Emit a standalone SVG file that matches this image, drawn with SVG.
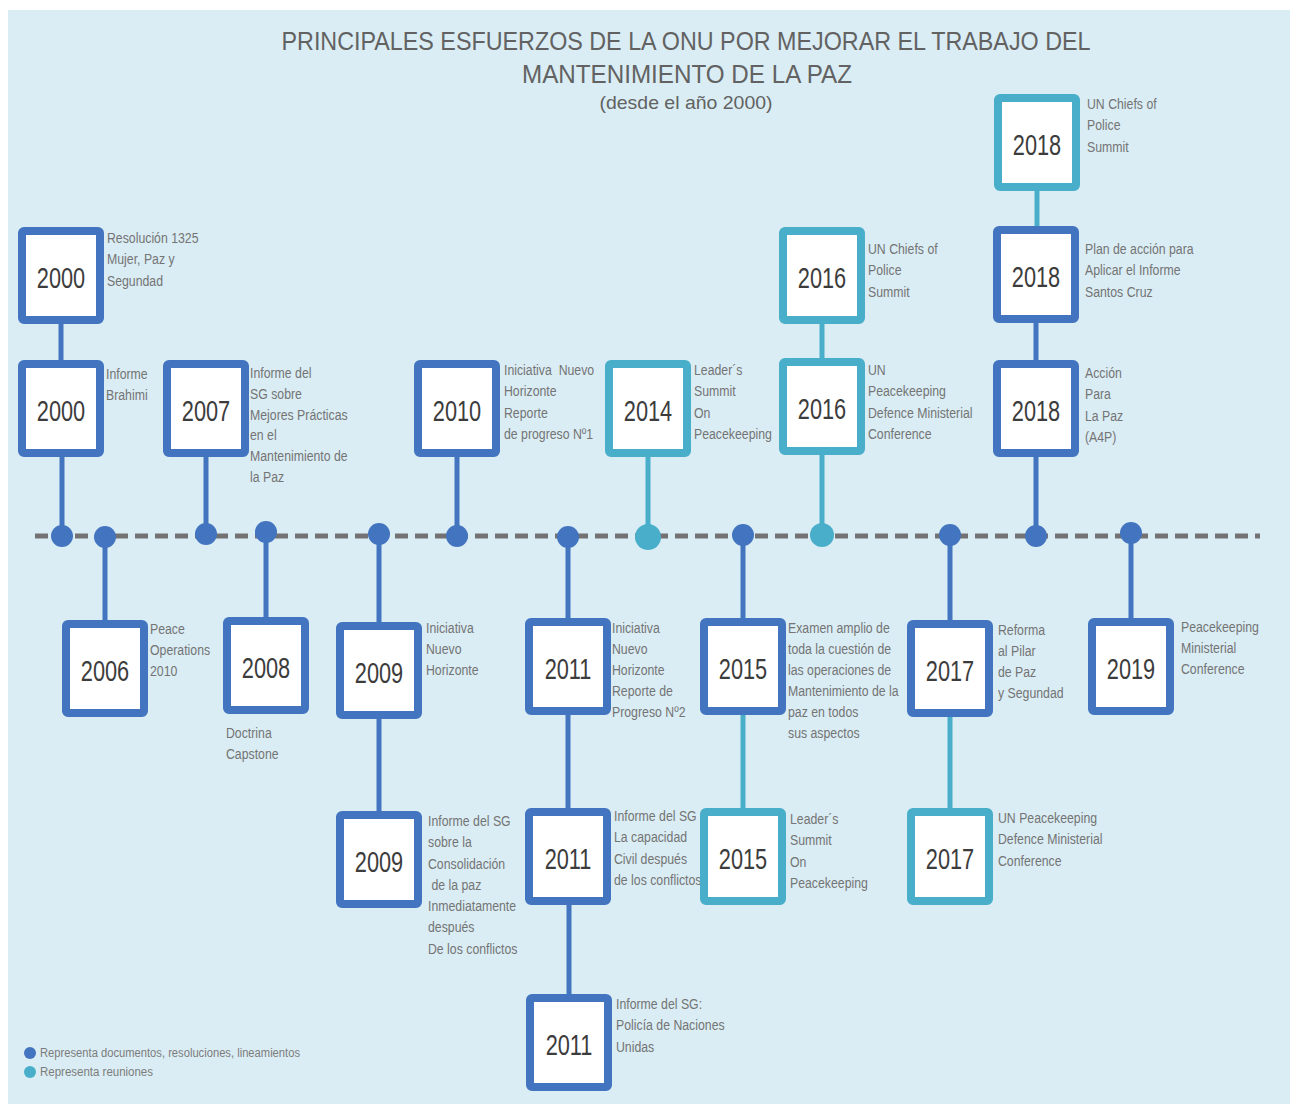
<svg xmlns="http://www.w3.org/2000/svg" width="1292" height="1104" viewBox="0 0 1292 1104">
<style>
.bg{fill:#daedf4}
.title{font-family:"Liberation Sans",Arial,sans-serif;fill:#626262}
.box{fill:#fff;stroke-width:8}
.bd{stroke:#4274bf}
.bt{stroke:#49aec9}
.yr{font-family:"Liberation Sans",Arial,sans-serif;font-size:29px;fill:#3c3c3c;text-anchor:middle}
.lb{font-family:"Liberation Sans",Arial,sans-serif;font-size:15px;fill:#747474}
.cd{stroke:#4274bf;stroke-width:5;fill:none}
.ct{stroke:#49aec9;stroke-width:5;fill:none}
.dd{fill:#4274bf}
.dt{fill:#49aec9}
.tl{stroke:#727272;stroke-width:5;stroke-dasharray:13 7;fill:none}
.lg{font-family:"Liberation Sans",Arial,sans-serif;font-size:12px;fill:#7c7c7c}
</style>
<rect x="0" y="0" width="1292" height="1104" fill="#fff"/>
<rect class="bg" x="8" y="10" width="1282" height="1094"/>

<g id="title">
<text class="title" x="686" y="50" font-size="25" text-anchor="middle" textLength="809" lengthAdjust="spacingAndGlyphs">PRINCIPALES ESFUERZOS DE LA ONU POR MEJORAR EL TRABAJO DEL</text>
<text class="title" x="687" y="83" font-size="25" text-anchor="middle" textLength="330" lengthAdjust="spacingAndGlyphs">MANTENIMIENTO DE LA PAZ</text>
<text class="title" x="686" y="109" font-size="19" text-anchor="middle" textLength="173" lengthAdjust="spacingAndGlyphs">(desde el año 2000)</text>
</g>

<g id="connectors">
<line class="tl" x1="35" y1="536" x2="1260" y2="536"/>
<line class="cd" x1="61" y1="323" x2="61" y2="361"/>
<line class="cd" x1="62" y1="456" x2="62" y2="536"/>
<line class="cd" x1="206" y1="456" x2="206" y2="536"/>
<line class="cd" x1="457" y1="456" x2="457" y2="536"/>
<line class="ct" x1="648" y1="456" x2="648" y2="536"/>
<line class="ct" x1="822" y1="323" x2="822" y2="360"/>
<line class="ct" x1="822" y1="455" x2="822" y2="536"/>
<line class="ct" x1="1037" y1="190" x2="1037" y2="227"/>
<line class="cd" x1="1036" y1="322" x2="1036" y2="361"/>
<line class="cd" x1="1036" y1="456" x2="1036" y2="536"/>
<line class="cd" x1="105" y1="536" x2="105" y2="621"/>
<line class="cd" x1="266" y1="536" x2="266" y2="618"/>
<line class="cd" x1="379" y1="536" x2="379" y2="623"/>
<line class="cd" x1="379" y1="718" x2="379" y2="812"/>
<line class="cd" x1="568" y1="536" x2="568" y2="619"/>
<line class="cd" x1="568" y1="714" x2="568" y2="809"/>
<line class="cd" x1="569" y1="904" x2="569" y2="995"/>
<line class="cd" x1="743" y1="536" x2="743" y2="619"/>
<line class="ct" x1="743" y1="714" x2="743" y2="809"/>
<line class="cd" x1="950" y1="536" x2="950" y2="621"/>
<line class="ct" x1="950" y1="716" x2="950" y2="809"/>
<line class="cd" x1="1131" y1="536" x2="1131" y2="619"/>
<circle class="dd" cx="62" cy="536" r="11"/>
<circle class="dd" cx="105" cy="537" r="11"/>
<circle class="dd" cx="206" cy="534" r="11"/>
<circle class="dd" cx="266" cy="532" r="11"/>
<circle class="dd" cx="379" cy="534" r="11"/>
<circle class="dd" cx="457" cy="536" r="11"/>
<circle class="dd" cx="568" cy="537" r="11"/>
<circle class="dt" cx="648" cy="537" r="13"/>
<circle class="dd" cx="743" cy="535" r="11"/>
<circle class="dt" cx="822" cy="535" r="12"/>
<circle class="dd" cx="950" cy="535" r="11"/>
<circle class="dd" cx="1036" cy="536" r="11"/>
<circle class="dd" cx="1131" cy="533" r="11"/>
</g>

<g id="n2000a"><rect class="box bd" x="22" y="231" width="78" height="89" rx="2"/><text class="yr" transform="translate(61,288) scale(0.75,1)">2000</text>
<text class="lb" transform="translate(107,243) scale(0.82,1)"><tspan x="0" y="0">Resolución 1325</tspan><tspan x="0" y="21.5">Mujer, Paz y</tspan><tspan x="0" y="43">Segundad</tspan></text></g>

<g id="n2000b"><rect class="box bd" x="22" y="364" width="78" height="89" rx="2"/><text class="yr" transform="translate(61,421) scale(0.75,1)">2000</text>
<text class="lb" transform="translate(106,379) scale(0.82,1)"><tspan x="0" y="0">Informe</tspan><tspan x="0" y="21.5">Brahimi</tspan></text></g>

<g id="n2007"><rect class="box bd" x="167" y="364" width="78" height="89" rx="2"/><text class="yr" transform="translate(206,421) scale(0.75,1)">2007</text>
<text class="lb" transform="translate(250,378) scale(0.82,1)"><tspan x="0" y="0">Informe del</tspan><tspan x="0" y="20.8">SG sobre</tspan><tspan x="0" y="41.6">Mejores Prácticas</tspan><tspan x="0" y="62.4">en el</tspan><tspan x="0" y="83.2">Mantenimiento de</tspan><tspan x="0" y="104">la Paz</tspan></text></g>

<g id="n2010"><rect class="box bd" x="418" y="364" width="78" height="89" rx="2"/><text class="yr" transform="translate(457,421) scale(0.75,1)">2010</text>
<text class="lb" transform="translate(504,375) scale(0.82,1)"><tspan x="0" y="0">Iniciativa&#160; Nuevo</tspan><tspan x="0" y="21.3">Horizonte</tspan><tspan x="0" y="42.6">Reporte</tspan><tspan x="0" y="63.9">de progreso Nº1</tspan></text></g>

<g id="n2014"><rect class="box bt" x="609" y="364" width="78" height="89" rx="2"/><text class="yr" transform="translate(648,421) scale(0.75,1)">2014</text>
<text class="lb" transform="translate(694,375) scale(0.82,1)"><tspan x="0" y="0">Leader´s</tspan><tspan x="0" y="21.3">Summit</tspan><tspan x="0" y="42.6">On</tspan><tspan x="0" y="63.9">Peacekeeping</tspan></text></g>

<g id="n2016a"><rect class="box bt" x="783" y="231" width="78" height="89" rx="2"/><text class="yr" transform="translate(822,288) scale(0.75,1)">2016</text>
<text class="lb" transform="translate(868,254) scale(0.82,1)"><tspan x="0" y="0">UN Chiefs of</tspan><tspan x="0" y="21.3">Police</tspan><tspan x="0" y="42.6">Summit</tspan></text></g>

<g id="n2016b"><rect class="box bt" x="783" y="362" width="78" height="89" rx="2"/><text class="yr" transform="translate(822,419) scale(0.75,1)">2016</text>
<text class="lb" transform="translate(868,375) scale(0.82,1)"><tspan x="0" y="0">UN</tspan><tspan x="0" y="21.3">Peacekeeping</tspan><tspan x="0" y="42.6">Defence Ministerial</tspan><tspan x="0" y="63.9">Conference</tspan></text></g>

<g id="n2018a"><rect class="box bt" x="998" y="98" width="78" height="89" rx="2"/><text class="yr" transform="translate(1037,155) scale(0.75,1)">2018</text>
<text class="lb" transform="translate(1087,109) scale(0.82,1)"><tspan x="0" y="0">UN Chiefs of</tspan><tspan x="0" y="21.3">Police</tspan><tspan x="0" y="42.6">Summit</tspan></text></g>

<g id="n2018b"><rect class="box bd" x="997" y="230" width="78" height="89" rx="2"/><text class="yr" transform="translate(1036,287) scale(0.75,1)">2018</text>
<text class="lb" transform="translate(1085,254) scale(0.82,1)"><tspan x="0" y="0">Plan de acción para</tspan><tspan x="0" y="21.3">Aplicar el Informe</tspan><tspan x="0" y="42.6">Santos Cruz</tspan></text></g>

<g id="n2018c"><rect class="box bd" x="997" y="364" width="78" height="89" rx="2"/><text class="yr" transform="translate(1036,421) scale(0.75,1)">2018</text>
<text class="lb" transform="translate(1085,378) scale(0.82,1)"><tspan x="0" y="0">Acción</tspan><tspan x="0" y="21.3">Para</tspan><tspan x="0" y="42.6">La Paz</tspan><tspan x="0" y="63.9">(A4P)</tspan></text></g>

<g id="n2006"><rect class="box bd" x="66" y="624" width="78" height="89" rx="2"/><text class="yr" transform="translate(105,681) scale(0.75,1)">2006</text>
<text class="lb" transform="translate(150,634) scale(0.82,1)"><tspan x="0" y="0">Peace</tspan><tspan x="0" y="21">Operations</tspan><tspan x="0" y="42">2010</tspan></text></g>

<g id="n2008"><rect class="box bd" x="227" y="621" width="78" height="89" rx="2"/><text class="yr" transform="translate(266,678) scale(0.75,1)">2008</text>
<text class="lb" transform="translate(226,738) scale(0.82,1)"><tspan x="0" y="0">Doctrina</tspan><tspan x="0" y="21.3">Capstone</tspan></text></g>

<g id="n2009a"><rect class="box bd" x="340" y="626" width="78" height="89" rx="2"/><text class="yr" transform="translate(379,683) scale(0.75,1)">2009</text>
<text class="lb" transform="translate(426,633) scale(0.82,1)"><tspan x="0" y="0">Iniciativa</tspan><tspan x="0" y="21">Nuevo</tspan><tspan x="0" y="42">Horizonte</tspan></text></g>

<g id="n2011a"><rect class="box bd" x="529" y="622" width="78" height="89" rx="2"/><text class="yr" transform="translate(568,679) scale(0.75,1)">2011</text>
<text class="lb" transform="translate(612,633) scale(0.82,1)"><tspan x="0" y="0">Iniciativa</tspan><tspan x="0" y="21">Nuevo</tspan><tspan x="0" y="42">Horizonte</tspan><tspan x="0" y="63">Reporte de</tspan><tspan x="0" y="84">Progreso Nº2</tspan></text></g>

<g id="n2015a"><rect class="box bd" x="704" y="622" width="78" height="89" rx="2"/><text class="yr" transform="translate(743,679) scale(0.75,1)">2015</text>
<text class="lb" transform="translate(788,633) scale(0.82,1)"><tspan x="0" y="0">Examen amplio de</tspan><tspan x="0" y="21">toda la cuestión de</tspan><tspan x="0" y="42">las operaciones de</tspan><tspan x="0" y="63">Mantenimiento de la</tspan><tspan x="0" y="84">paz en todos</tspan><tspan x="0" y="105">sus aspectos</tspan></text></g>

<g id="n2017a"><rect class="box bd" x="911" y="624" width="78" height="89" rx="2"/><text class="yr" transform="translate(950,681) scale(0.75,1)">2017</text>
<text class="lb" transform="translate(998,635) scale(0.82,1)"><tspan x="0" y="0">Reforma</tspan><tspan x="0" y="21">al Pilar</tspan><tspan x="0" y="42">de Paz</tspan><tspan x="0" y="63">y Segundad</tspan></text></g>

<g id="n2019"><rect class="box bd" x="1092" y="622" width="78" height="89" rx="2"/><text class="yr" transform="translate(1131,679) scale(0.75,1)">2019</text>
<text class="lb" transform="translate(1181,632) scale(0.82,1)"><tspan x="0" y="0">Peacekeeping</tspan><tspan x="0" y="21">Ministerial</tspan><tspan x="0" y="42">Conference</tspan></text></g>

<g id="n2009b"><rect class="box bd" x="340" y="815" width="78" height="89" rx="2"/><text class="yr" transform="translate(379,872) scale(0.75,1)">2009</text>
<text class="lb" transform="translate(428,826) scale(0.82,1)"><tspan x="0" y="0">Informe del SG</tspan><tspan x="0" y="21.3">sobre la</tspan><tspan x="0" y="42.6">Consolidación</tspan><tspan x="0" y="63.9">&#160;de la paz</tspan><tspan x="0" y="85.2">Inmediatamente</tspan><tspan x="0" y="106.5">después</tspan><tspan x="0" y="127.8">De los conflictos</tspan></text></g>

<g id="n2011b"><rect class="box bd" x="529" y="812" width="78" height="89" rx="2"/><text class="yr" transform="translate(568,869) scale(0.75,1)">2011</text>
<text class="lb" transform="translate(614,821) scale(0.82,1)"><tspan x="0" y="0">Informe del SG</tspan><tspan x="0" y="21.3">La capacidad</tspan><tspan x="0" y="42.6">Civil después</tspan><tspan x="0" y="63.9">de los conflictos</tspan></text></g>

<g id="n2015b"><rect class="box bt" x="704" y="812" width="78" height="89" rx="2"/><text class="yr" transform="translate(743,869) scale(0.75,1)">2015</text>
<text class="lb" transform="translate(790,824) scale(0.82,1)"><tspan x="0" y="0">Leader´s</tspan><tspan x="0" y="21.3">Summit</tspan><tspan x="0" y="42.6">On</tspan><tspan x="0" y="63.9">Peacekeeping</tspan></text></g>

<g id="n2017b"><rect class="box bt" x="911" y="812" width="78" height="89" rx="2"/><text class="yr" transform="translate(950,869) scale(0.75,1)">2017</text>
<text class="lb" transform="translate(998,823) scale(0.82,1)"><tspan x="0" y="0">UN Peacekeeping</tspan><tspan x="0" y="21.3">Defence Ministerial</tspan><tspan x="0" y="42.6">Conference</tspan></text></g>

<g id="n2011c"><rect class="box bd" x="530" y="998" width="78" height="89" rx="2"/><text class="yr" transform="translate(569,1055) scale(0.75,1)">2011</text>
<text class="lb" transform="translate(616,1009) scale(0.82,1)"><tspan x="0" y="0">Informe del SG:</tspan><tspan x="0" y="21.3">Policía de Naciones</tspan><tspan x="0" y="42.6">Unidas</tspan></text></g>

<g id="legend">
<circle class="dd" cx="30" cy="1053" r="6"/>
<circle class="dt" cx="30" cy="1072" r="6"/>
<text class="lg" x="40" y="1057" textLength="260" lengthAdjust="spacingAndGlyphs">Representa documentos, resoluciones, lineamientos</text>
<text class="lg" x="40" y="1076" textLength="113" lengthAdjust="spacingAndGlyphs">Representa reuniones</text>
</g>
</svg>
